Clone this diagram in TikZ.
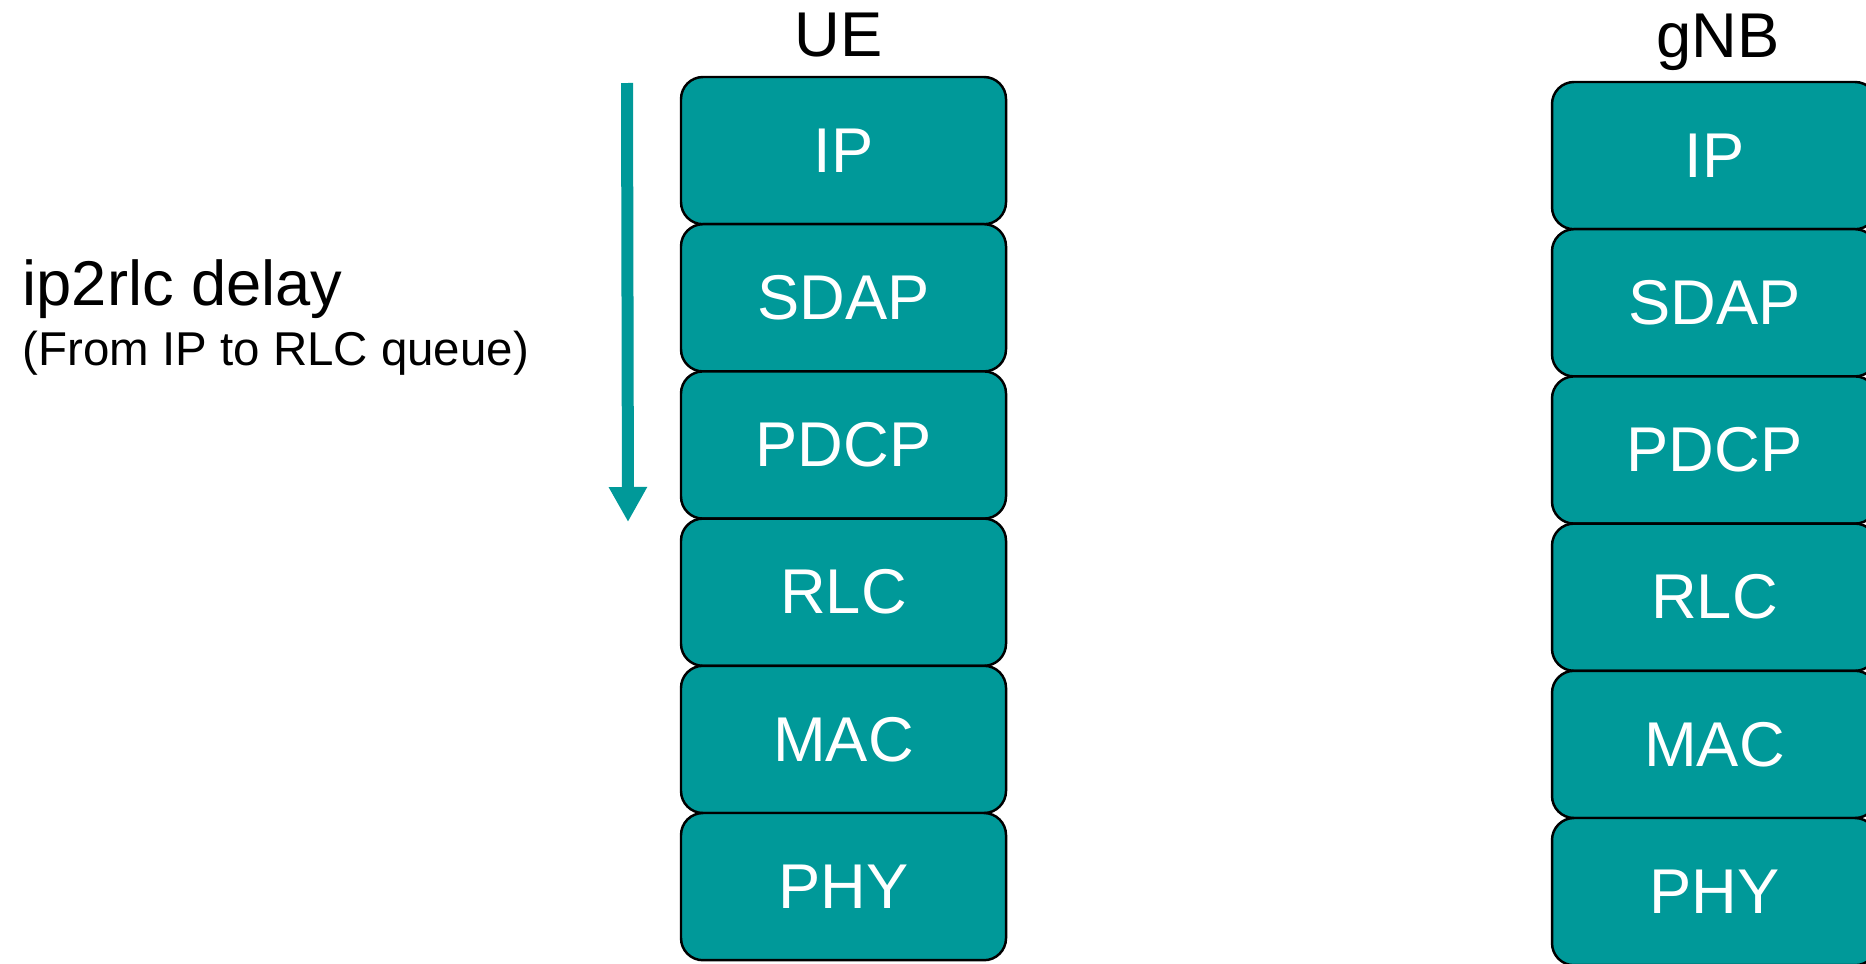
\documentclass[tikz,border=0pt]{standalone}
\usepackage{fontspec}
\setmainfont{Liberation Sans}
\usetikzlibrary{arrows.meta}
\definecolor{layerteal}{RGB}{0,153,153}
\tikzset{
  layer/.style={draw=black, line width=0.7pt, fill=layerteal, rounded corners=0.22cm,
    minimum width=3.25cm, minimum height=1.472cm, inner sep=0pt,
    text=white, font=\fontsize{18}{22}\selectfont},
  stacktitle/.style={anchor=base, font=\fontsize{18}{22}\selectfont},
}
\begin{document}
\begin{tikzpicture}
\useasboundingbox (0,0) rectangle (18.66,9.63);
% protocol stacks, top to bottom
\foreach \name/\lbl [count=\i from 0] in {ip/IP,sdap/SDAP,pdcp/PDCP,rlc/RLC,mac/MAC,phy/PHY}{
  \node[layer] (ue-\name) at (8.435,8.124-1.472*\i) {\lbl};
  \node[layer] (gnb-\name) at (17.145,8.074-1.472*\i) {\lbl};
}
\node[stacktitle] (ue-title) at (8.385,9.07) {UE};
\node[stacktitle] (gnb-title) at (17.18,9.06) {gNB};
% ip2rlc delay
\coordinate (delay-start) at (6.27,8.80);
\coordinate (delay-end) at (6.28,4.41);
\draw[layerteal, line width=0.12cm, -{Triangle[width=0.36cm,length=0.35cm]}] (delay-start) -- (delay-end);
\node[anchor=base west, inner sep=0pt, font=\fontsize{18}{22}\selectfont] (delay-lbl) at (0.22,6.58) {ip2rlc delay};
\node[anchor=base west, inner sep=0pt, font=\fontsize{13.5}{16}\selectfont] (delay-sub) at (0.22,5.98) {(From IP to RLC queue)};
\end{tikzpicture}
\end{document}
